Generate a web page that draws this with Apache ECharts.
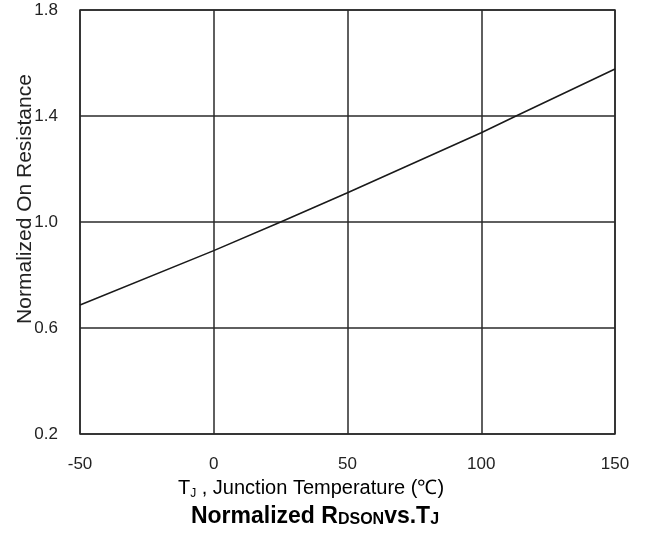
<!DOCTYPE html>
<html>
<head>
    <meta charset="utf-8" />
    <title>Normalized RDSON vs. TJ</title>
    <script src="https://cdn.jsdelivr.net/npm/echarts@6/dist/echarts.min.js"></script>
    <style>
        body { margin: 0; background: #fff; }
        #main { width: 645px; height: 539px; }
    </style>
</head>
<body>
<div id="main"></div>
<script type="text/javascript">
    // values
    let tempC = [-50, 0, 25, 50, 100, 113, 150]
    let rdsNorm = [0.687, 0.892, 1.0, 1.11, 1.337, 1.4, 1.577]
    let xTicks = [-50, 0, 50, 100, 150]
    let yTicks = [0.2, 0.6, 1.0, 1.4, 1.8]

    let lineColor = '#1a1a1a'
    let gridColor = '#2a2a2a'
    let textColor = '#222'
    let fontFam = 'Liberation Sans, Arial, sans-serif'

    let chart = echarts.init(document.getElementById('main'), null, { renderer: 'canvas' })

    chart.setOption({
        animation: false,
        grid: {
            left: 80, right: 30, top: 10, bottom: 105,
            show: true,
            borderColor: gridColor,
            borderWidth: 1.5,
        },
        xAxis: {
            type: 'value',
            min: xTicks[0],
            max: xTicks[xTicks.length - 1],
            interval: 50,
            axisLine: { show: false },
            axisTick: { show: false },
            splitLine: { show: true, lineStyle: { color: gridColor, width: 1.5 } },
            axisLabel: { color: textColor, fontSize: 17, fontFamily: fontFam, margin: 22 },
        },
        yAxis: {
            type: 'value',
            min: yTicks[0],
            max: yTicks[yTicks.length - 1],
            interval: 0.4,
            axisLine: { show: false },
            axisTick: { show: false },
            splitLine: { show: true, lineStyle: { color: gridColor, width: 1.5 } },
            axisLabel: {
                color: textColor, fontSize: 17, fontFamily: fontFam, margin: 22,
                formatter: function (v) { return v.toFixed(1) }
            },
        },
        series: [
            {
                type: 'line',
                data: tempC.map(function (t, i) { return [t, rdsNorm[i]] }),
                showSymbol: false,
                smooth: false,
                lineStyle: { color: lineColor, width: 1.6 },
            }
        ],
        graphic: [
            {
                type: 'text',
                x: 25, y: 199,
                rotation: Math.PI / 2,
                style: {
                    text: 'Normalized On Resistance',
                    fill: textColor,
                    font: '21px ' + fontFam,
                    align: 'center',
                    verticalAlign: 'middle',
                }
            },
            {
                type: 'text',
                x: 311, y: 488,
                style: {
                    text: '{a|T}{s|J}{a| , Junction Temperature (℃)}',
                    align: 'center',
                    verticalAlign: 'middle',
                    rich: {
                        a: { fontSize: 20, fontFamily: fontFam, color: textColor },
                        s: { fontSize: 12, fontFamily: fontFam, color: textColor, padding: [11, 0, 0, 0] },
                    }
                }
            },
            {
                type: 'text',
                x: 315, y: 517,
                style: {
                    text: '{a|Normalized R}{s|DSON}{a|vs.T}{s|J}',
                    align: 'center',
                    verticalAlign: 'middle',
                    rich: {
                        a: { fontSize: 23, fontWeight: 'bold', fontFamily: fontFam, color: '#111' },
                        s: { fontSize: 16, fontWeight: 'bold', fontFamily: fontFam, color: '#111', padding: [5, 0, 0, 0] },
                    }
                }
            }
        ]
    })
</script>
</body>
</html>
